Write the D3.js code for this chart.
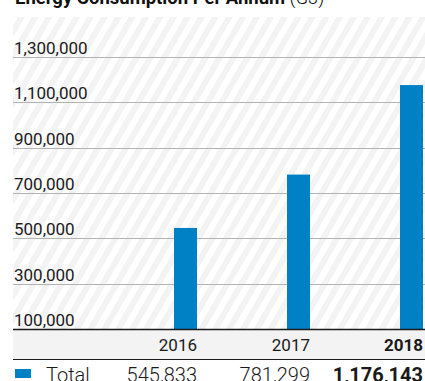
<!DOCTYPE html>
<html>
<head>
<meta charset="utf-8">
<script src="https://cdn.jsdelivr.net/npm/d3@7/dist/d3.min.js"></script>
<style>
  html, body { margin: 0; padding: 0; background: #fff; overflow: hidden; }
  svg { display: block; font-family: Roboto, "Noto Sans", sans-serif; }
</style>
</head>
<body>
<svg id="chart" width="425" height="381"></svg>
<script>
// Energy consumption per annum (GJ)
const years = ["2016", "2017", "2018"];
const totals = [545833, 781299, 1176143];
const yTicks = [100000, 300000, 500000, 700000, 900000, 1100000, 1300000];
const seriesName = "Total";
const highlightYear = "2018";

const W = 425, H = 381;
const left = 13, right = 425;
const baseY = 329, topY = 57;
const blue = "#0081c6";
const fmt = d3.format(",");

const svg = d3.select("#chart");

// diagonal hatch for the plot background
const defs = svg.append("defs");
const pat = defs.append("pattern")
  .attr("id", "hatch")
  .attr("patternUnits", "userSpaceOnUse")
  .attr("width", 12).attr("height", 12)
  .attr("patternTransform", "rotate(30)");
pat.append("rect").attr("width", 12).attr("height", 12).attr("fill", "#fff");
pat.append("rect").attr("width", 6).attr("height", 12).attr("fill", "#f3f3f3");

// title (sits partly above the frame)
const title = svg.append("text")
  .attr("x", 15).attr("y", 4)
  .attr("font-size", 18.5).attr("fill", "#111");
title.append("tspan").attr("font-weight", 700).text("Energy Consumption Per Annum");
title.append("tspan").attr("font-weight", 300).text(" (GJ)");

const y = d3.scaleLinear().domain([100000, 1300000]).range([baseY, topY]);
const x = d3.scaleBand().domain(years).range([84, 423]).paddingInner(0).paddingOuter(0);
const barW = 23;

svg.append("rect")
  .attr("x", left).attr("y", 17)
  .attr("width", right - left).attr("height", baseY - 17)
  .attr("fill", "url(#hatch)");

// gridlines with labels above them
const grid = svg.append("g");
grid.selectAll("line").data(yTicks.filter(d => d !== 100000)).join("line")
  .attr("x1", left).attr("x2", right)
  .attr("y1", d => Math.round(y(d)) + 0.5)
  .attr("y2", d => Math.round(y(d)) + 0.5)
  .attr("stroke", "#b3b3b3").attr("stroke-width", 1);
grid.selectAll("text").data(yTicks).join("text")
  .attr("x", 14).attr("y", d => Math.round(y(d)) - 3)
  .attr("font-size", 17).attr("fill", "#1a1a1a")
  .text(d => fmt(d));

// bars, right-aligned in each year column
svg.append("g").selectAll("rect").data(years).join("rect")
  .attr("x", d => x(d) + x.bandwidth() - barW)
  .attr("y", (d, i) => y(totals[i]))
  .attr("width", barW)
  .attr("height", (d, i) => baseY - y(totals[i]))
  .attr("fill", blue);

// header band with year labels
svg.append("rect")
  .attr("x", left).attr("y", baseY)
  .attr("width", right - left).attr("height", 30)
  .attr("fill", "#f3f3f3");
svg.append("line")
  .attr("x1", left).attr("x2", right)
  .attr("y1", baseY + 0.5).attr("y2", baseY + 0.5)
  .attr("stroke", "#1a1a1a").attr("stroke-width", 1.3);
svg.append("line")
  .attr("x1", left).attr("x2", right)
  .attr("y1", 359.5).attr("y2", 359.5)
  .attr("stroke", "#1a1a1a").attr("stroke-width", 1);

svg.append("g").selectAll("text").data(years).join("text")
  .attr("x", d => x(d) + x.bandwidth())
  .attr("y", 351)
  .attr("text-anchor", "end")
  .attr("font-size", 17)
  .attr("font-weight", d => d === highlightYear ? 700 : 400)
  .attr("fill", "#1a1a1a")
  .text(d => d);

// value row
svg.append("rect")
  .attr("x", 15).attr("y", 369)
  .attr("width", 16).attr("height", 9)
  .attr("fill", blue);
svg.append("text")
  .attr("x", 46).attr("y", 382)
  .attr("font-size", 20).attr("font-weight", 300).attr("fill", "#1a1a1a")
  .text(seriesName);
svg.append("g").selectAll("text").data(years).join("text")
  .attr("x", d => x(d) + x.bandwidth())
  .attr("y", 382)
  .attr("text-anchor", "end")
  .attr("font-size", 20)
  .attr("font-weight", d => d === highlightYear ? 700 : 300)
  .attr("fill", "#1a1a1a")
  .text((d, i) => fmt(totals[i]));
</script>
</body>
</html>
